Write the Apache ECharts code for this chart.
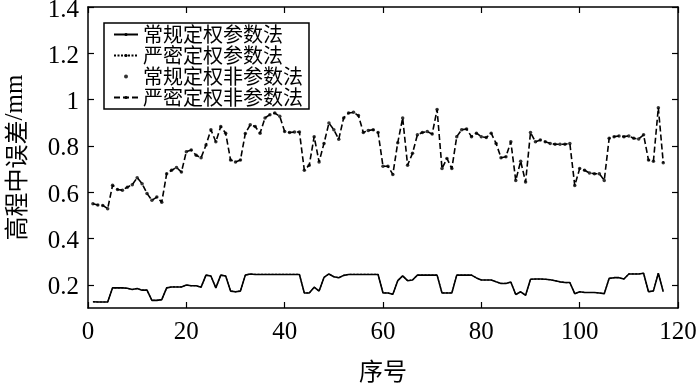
<!DOCTYPE html>
<html>
<head>
<meta charset="utf-8">
<script src="https://cdn.jsdelivr.net/npm/echarts@6/dist/echarts.min.js"></script>
<style>
  html, body { margin: 0; padding: 0; background: #fff; }
  #main { width: 700px; height: 384px; }
</style>
</head>
<body>
<div id="main"></div>
<script>
// 图例名称
const seriesNames = ['常规定权参数法', '严密定权参数法', '常规定权非参数法', '严密定权非参数法']
const xTicks = [0, 20, 40, 60, 80, 100, 120]
const yTicks = [0.2, 0.4, 0.6, 0.8, 1, 1.2, 1.4]

// 参数法（下方两条曲线几乎重合）
const paramConv = [
  0.127, 0.126, 0.126, 0.126, 0.187, 0.187, 0.187, 0.185, 0.180, 0.184,
  0.177, 0.177, 0.133, 0.133, 0.136, 0.187, 0.191, 0.191, 0.191, 0.199,
  0.196, 0.196, 0.190, 0.242, 0.238, 0.187, 0.242, 0.238, 0.173, 0.170,
  0.173, 0.242, 0.247, 0.245, 0.245, 0.245, 0.245, 0.245, 0.245, 0.245,
  0.245, 0.245, 0.245, 0.165, 0.165, 0.190, 0.173, 0.232, 0.247, 0.235,
  0.231, 0.241, 0.245, 0.245, 0.245, 0.245, 0.245, 0.245, 0.245, 0.165,
  0.165, 0.159, 0.218, 0.239, 0.218, 0.221, 0.242, 0.242, 0.242, 0.242,
  0.242, 0.165, 0.165, 0.165, 0.242, 0.242, 0.242, 0.242, 0.230, 0.221,
  0.221, 0.221, 0.213, 0.206, 0.206, 0.212, 0.158, 0.170, 0.155, 0.224,
  0.225, 0.225, 0.224, 0.222, 0.218, 0.213, 0.210, 0.210, 0.162, 0.170,
  0.167, 0.167, 0.167, 0.165, 0.162, 0.228, 0.231, 0.231, 0.225, 0.247,
  0.247, 0.247, 0.250, 0.170, 0.174, 0.250, 0.170
]
const paramStrict = paramConv.slice()

// 非参数法（上方两条曲线几乎重合）
const nonparamConv = [
  0.550, 0.545, 0.543, 0.529, 0.630, 0.612, 0.609, 0.622, 0.632, 0.663,
  0.637, 0.595, 0.565, 0.579, 0.557, 0.680, 0.695, 0.707, 0.687, 0.775,
  0.782, 0.760, 0.749, 0.804, 0.870, 0.818, 0.884, 0.855, 0.739, 0.731,
  0.739, 0.854, 0.891, 0.884, 0.855, 0.921, 0.935, 0.942, 0.928, 0.862,
  0.858, 0.860, 0.860, 0.695, 0.717, 0.840, 0.731, 0.811, 0.899, 0.870,
  0.829, 0.921, 0.942, 0.945, 0.931, 0.858, 0.867, 0.870, 0.858, 0.712,
  0.712, 0.677, 0.814, 0.921, 0.717, 0.768, 0.848, 0.858, 0.862, 0.851,
  0.957, 0.702, 0.746, 0.702, 0.840, 0.870, 0.873, 0.840, 0.855, 0.840,
  0.836, 0.855, 0.811, 0.749, 0.753, 0.818, 0.651, 0.734, 0.644, 0.858,
  0.818, 0.826, 0.818, 0.811, 0.807, 0.807, 0.807, 0.811, 0.629, 0.702,
  0.695, 0.683, 0.680, 0.680, 0.651, 0.833, 0.840, 0.843, 0.840, 0.843,
  0.833, 0.830, 0.848, 0.739, 0.734, 0.965, 0.727
]
const nonparamStrict = nonparamConv.slice()

const toPoints = arr => arr.map((v, i) => [i + 1, v])

const numFont = 'Liberation Serif'
const cjkFont = 'Noto Sans CJK SC'

const myChart = echarts.init(document.getElementById('main'))
const option = {
  animation: false,
  legend: {
    orient: 'vertical',
    left: 104,
    top: 23,
    padding: [1, 6, 1, 9],
    itemGap: 0,
    itemWidth: 24,
    itemHeight: 4,
    borderColor: '#000',
    borderWidth: 1.5,
    borderRadius: 0,
    backgroundColor: '#fff',
    textStyle: { fontFamily: cjkFont, fontSize: 20, lineHeight: 21, color: '#000' },
    data: seriesNames
  },
  grid: {
    left: 88,
    right: 22,
    top: 7,
    bottom: 76,
    outerBoundsMode: 'none'
  },
  xAxis: [
    {
      type: 'value',
      min: 0,
      max: 120,
      interval: 20,
      name: '序号',
      nameLocation: 'middle',
      nameGap: 51,
      nameTextStyle: { fontFamily: cjkFont, fontSize: 24, color: '#000' },
      axisLine: { show: true, onZero: false, lineStyle: { color: '#000', width: 1.5 } },
      axisTick: { inside: true, length: 6, lineStyle: { color: '#000', width: 1.2 } },
      axisLabel: { fontFamily: numFont, fontSize: 25, color: '#000', margin: 12 },
      splitLine: { show: false }
    },
    {
      type: 'value',
      position: 'top',
      min: 0,
      max: 120,
      interval: 20,
      axisLine: { show: true, onZero: false, lineStyle: { color: '#000', width: 1.5 } },
      axisTick: { inside: true, length: 6, lineStyle: { color: '#000', width: 1.2 } },
      axisLabel: { show: false },
      splitLine: { show: false }
    }
  ],
  yAxis: [
    {
      type: 'value',
      min: 0.1,
      max: 1.4,
      name: '{c|高程中误差}{n|/mm}',
      nameLocation: 'middle',
      nameGap: 60,
      nameTextStyle: {
        fontSize: 24,
        color: '#000',
        rich: {
          c: { fontFamily: cjkFont, fontSize: 24, color: '#000' },
          n: { fontFamily: numFont, fontSize: 25, color: '#000' }
        }
      },
      axisLine: { show: true, onZero: false, lineStyle: { color: '#000', width: 1.5 } },
      axisTick: { inside: true, length: 6, customValues: yTicks, lineStyle: { color: '#000', width: 1.2 } },
      axisLabel: {
        margin: 9,
        customValues: yTicks,
        formatter: v => '{t|' + v + '}',
        rich: {
          t: { fontFamily: numFont, fontSize: 25, color: '#000', padding: [6, 0, 0, 0] }
        }
      },
      splitLine: { show: false }
    },
    {
      type: 'value',
      position: 'right',
      min: 0.1,
      max: 1.4,
      axisLine: { show: true, onZero: false, lineStyle: { color: '#000', width: 1.5 } },
      axisTick: { inside: true, length: 6, customValues: yTicks, lineStyle: { color: '#000', width: 1.2 } },
      axisLabel: { show: false, customValues: yTicks },
      splitLine: { show: false }
    }
  ],
  series: [
    {
      name: seriesNames[0],
      type: 'line',
      symbol: 'none',
      lineStyle: { color: '#000', width: 1.6 },
      itemStyle: { color: '#000' },
      data: toPoints(paramConv)
    },
    {
      name: seriesNames[1],
      type: 'line',
      symbol: 'none',
      lineStyle: { color: '#000', width: 1.2, type: [2, 1.5] },
      itemStyle: { color: '#000' },
      data: toPoints(paramStrict)
    },
    {
      name: seriesNames[2],
      type: 'scatter',
      symbol: 'circle',
      symbolSize: 3.5,
      itemStyle: { color: '#000' },
      data: toPoints(nonparamConv)
    },
    {
      name: seriesNames[3],
      type: 'line',
      symbol: 'none',
      lineStyle: { color: '#000', width: 1.6, type: [6, 3] },
      itemStyle: { color: '#000' },
      data: toPoints(nonparamStrict)
    }
  ]
}
option && myChart.setOption(option)
</script>
</body>
</html>
